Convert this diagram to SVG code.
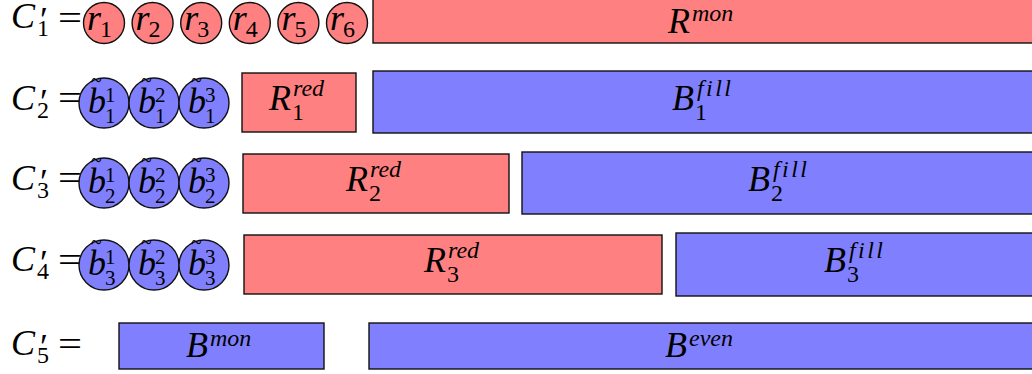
<svg xmlns="http://www.w3.org/2000/svg" width="1032" height="374" viewBox="0 0 1032 374">
<style>
.red{fill:#FF8080;stroke:#111;stroke-width:1.4}
.blue{fill:#8080FF;stroke:#111;stroke-width:1.4}
</style>
<rect width="1032" height="374" fill="#fff"/>
<g id="connectors"/>
<g id="labels">
<g id="label-c1"><text font-family="Liberation Serif" font-style="italic" font-size="36" x="11" y="28">C</text><text font-family="Liberation Serif" font-size="36" x="40" y="32">′</text><text font-family="Liberation Serif" font-size="24" x="37" y="36">1</text><text font-family="Liberation Serif" font-size="36" x="58" y="30.4" textLength="24" lengthAdjust="spacingAndGlyphs">=</text></g>
<g id="label-c2"><text font-family="Liberation Serif" font-style="italic" font-size="36" x="11" y="110">C</text><text font-family="Liberation Serif" font-size="36" x="40" y="114">′</text><text font-family="Liberation Serif" font-size="24" x="37" y="118">2</text><text font-family="Liberation Serif" font-size="36" x="58" y="110.4" textLength="24" lengthAdjust="spacingAndGlyphs">=</text></g>
<g id="label-c3"><text font-family="Liberation Serif" font-style="italic" font-size="36" x="11" y="190">C</text><text font-family="Liberation Serif" font-size="36" x="40" y="194">′</text><text font-family="Liberation Serif" font-size="24" x="37" y="198">3</text><text font-family="Liberation Serif" font-size="36" x="58" y="190.4" textLength="24" lengthAdjust="spacingAndGlyphs">=</text></g>
<g id="label-c4"><text font-family="Liberation Serif" font-style="italic" font-size="36" x="11" y="271">C</text><text font-family="Liberation Serif" font-size="36" x="40" y="275">′</text><text font-family="Liberation Serif" font-size="24" x="37" y="279">4</text><text font-family="Liberation Serif" font-size="36" x="58" y="272.4" textLength="24" lengthAdjust="spacingAndGlyphs">=</text></g>
<g id="label-c5"><text font-family="Liberation Serif" font-style="italic" font-size="36" x="11" y="355">C</text><text font-family="Liberation Serif" font-size="36" x="40" y="359">′</text><text font-family="Liberation Serif" font-size="24" x="37" y="363">5</text><text font-family="Liberation Serif" font-size="36" x="58" y="355.5" textLength="24" lengthAdjust="spacingAndGlyphs">=</text></g>
</g>
<g id="row1">
<g id="r1"><circle class="red" cx="104" cy="23" r="20.5"/><text font-family="Liberation Serif" font-style="italic" font-size="36" x="87" y="30">r</text><text font-family="Liberation Serif" font-size="24" x="100" y="37">1</text></g>
<g id="r2"><circle class="red" cx="152.6" cy="23" r="20.5"/><text font-family="Liberation Serif" font-style="italic" font-size="36" x="135.6" y="30">r</text><text font-family="Liberation Serif" font-size="24" x="148.6" y="37">2</text></g>
<g id="r3"><circle class="red" cx="201.2" cy="23" r="20.5"/><text font-family="Liberation Serif" font-style="italic" font-size="36" x="184.2" y="30">r</text><text font-family="Liberation Serif" font-size="24" x="197.2" y="37">3</text></g>
<g id="r4"><circle class="red" cx="249.8" cy="23" r="20.5"/><text font-family="Liberation Serif" font-style="italic" font-size="36" x="232.8" y="30">r</text><text font-family="Liberation Serif" font-size="24" x="245.8" y="37">4</text></g>
<g id="r5"><circle class="red" cx="298.4" cy="23" r="20.5"/><text font-family="Liberation Serif" font-style="italic" font-size="36" x="281.4" y="30">r</text><text font-family="Liberation Serif" font-size="24" x="294.4" y="37">5</text></g>
<g id="r6"><circle class="red" cx="347" cy="23" r="20.5"/><text font-family="Liberation Serif" font-style="italic" font-size="36" x="330" y="30">r</text><text font-family="Liberation Serif" font-size="24" x="343" y="37">6</text></g>
<g id="Rmon"><rect class="red" x="373" y="-2" width="660" height="45"/><text font-family="Liberation Serif" font-style="italic" font-size="36" x="668" y="33">R</text><text font-family="Liberation Serif" font-style="italic" font-size="24" x="692" y="21">mon</text></g>
</g>
<g id="row2">
<g id="b11"><circle class="blue" cx="104" cy="103" r="25"/><text font-family="Liberation Serif" font-size="20" x="91" y="87">~</text><text font-family="Liberation Serif" font-style="italic" font-size="36" x="88" y="113">b</text><text font-family="Liberation Serif" font-size="21" x="105" y="102">1</text><text font-family="Liberation Serif" font-size="21" x="105" y="123">1</text></g>
<g id="b21"><circle class="blue" cx="154" cy="103" r="25"/><text font-family="Liberation Serif" font-size="20" x="141" y="87">~</text><text font-family="Liberation Serif" font-style="italic" font-size="36" x="138" y="113">b</text><text font-family="Liberation Serif" font-size="21" x="155" y="102">2</text><text font-family="Liberation Serif" font-size="21" x="155" y="123">1</text></g>
<g id="b31"><circle class="blue" cx="204" cy="103" r="25"/><text font-family="Liberation Serif" font-size="20" x="191" y="87">~</text><text font-family="Liberation Serif" font-style="italic" font-size="36" x="188" y="113">b</text><text font-family="Liberation Serif" font-size="21" x="205" y="102">3</text><text font-family="Liberation Serif" font-size="21" x="205" y="123">1</text></g>
<g id="R1red"><rect class="red" x="242" y="73" width="114" height="59"/><text font-family="Liberation Serif" font-style="italic" font-size="36" x="269" y="110">R</text><text font-family="Liberation Serif" font-style="italic" font-size="24" x="293" y="96">red</text><text font-family="Liberation Serif" font-size="24" x="292" y="120">1</text></g>
<g id="B1fill"><rect class="blue" x="373" y="71" width="660" height="62"/><text font-family="Liberation Serif" font-style="italic" font-size="36" x="672" y="110">B</text><text font-family="Liberation Serif" font-style="italic" font-size="24" x="697" y="96" textLength="34" lengthAdjust="spacing">fill</text><text font-family="Liberation Serif" font-size="24" x="695" y="120">1</text></g>
</g>
<g id="row3">
<g id="b12"><circle class="blue" cx="104" cy="183" r="25"/><text font-family="Liberation Serif" font-size="20" x="91" y="167">~</text><text font-family="Liberation Serif" font-style="italic" font-size="36" x="88" y="193">b</text><text font-family="Liberation Serif" font-size="21" x="105" y="182">1</text><text font-family="Liberation Serif" font-size="21" x="105" y="203">2</text></g>
<g id="b22"><circle class="blue" cx="154" cy="183" r="25"/><text font-family="Liberation Serif" font-size="20" x="141" y="167">~</text><text font-family="Liberation Serif" font-style="italic" font-size="36" x="138" y="193">b</text><text font-family="Liberation Serif" font-size="21" x="155" y="182">2</text><text font-family="Liberation Serif" font-size="21" x="155" y="203">2</text></g>
<g id="b32"><circle class="blue" cx="204" cy="183" r="25"/><text font-family="Liberation Serif" font-size="20" x="191" y="167">~</text><text font-family="Liberation Serif" font-style="italic" font-size="36" x="188" y="193">b</text><text font-family="Liberation Serif" font-size="21" x="205" y="182">3</text><text font-family="Liberation Serif" font-size="21" x="205" y="203">2</text></g>
<g id="R2red"><rect class="red" x="243" y="154" width="266" height="59"/><text font-family="Liberation Serif" font-style="italic" font-size="36" x="346" y="191">R</text><text font-family="Liberation Serif" font-style="italic" font-size="24" x="370" y="177">red</text><text font-family="Liberation Serif" font-size="24" x="369" y="201">2</text></g>
<g id="B2fill"><rect class="blue" x="522" y="152" width="511" height="62"/><text font-family="Liberation Serif" font-style="italic" font-size="36" x="748" y="191">B</text><text font-family="Liberation Serif" font-style="italic" font-size="24" x="773" y="177" textLength="34" lengthAdjust="spacing">fill</text><text font-family="Liberation Serif" font-size="24" x="771" y="201">2</text></g>
</g>
<g id="row4">
<g id="b13"><circle class="blue" cx="104" cy="265" r="25"/><text font-family="Liberation Serif" font-size="20" x="91" y="249">~</text><text font-family="Liberation Serif" font-style="italic" font-size="36" x="88" y="275">b</text><text font-family="Liberation Serif" font-size="21" x="105" y="264">1</text><text font-family="Liberation Serif" font-size="21" x="105" y="285">3</text></g>
<g id="b23"><circle class="blue" cx="154" cy="265" r="25"/><text font-family="Liberation Serif" font-size="20" x="141" y="249">~</text><text font-family="Liberation Serif" font-style="italic" font-size="36" x="138" y="275">b</text><text font-family="Liberation Serif" font-size="21" x="155" y="264">2</text><text font-family="Liberation Serif" font-size="21" x="155" y="285">3</text></g>
<g id="b33"><circle class="blue" cx="204" cy="265" r="25"/><text font-family="Liberation Serif" font-size="20" x="191" y="249">~</text><text font-family="Liberation Serif" font-style="italic" font-size="36" x="188" y="275">b</text><text font-family="Liberation Serif" font-size="21" x="205" y="264">3</text><text font-family="Liberation Serif" font-size="21" x="205" y="285">3</text></g>
<g id="R3red"><rect class="red" x="244" y="235" width="418" height="59"/><text font-family="Liberation Serif" font-style="italic" font-size="36" x="424" y="272">R</text><text font-family="Liberation Serif" font-style="italic" font-size="24" x="448" y="258">red</text><text font-family="Liberation Serif" font-size="24" x="447" y="282">3</text></g>
<g id="B3fill"><rect class="blue" x="676" y="233" width="357" height="63"/><text font-family="Liberation Serif" font-style="italic" font-size="36" x="824" y="272">B</text><text font-family="Liberation Serif" font-style="italic" font-size="24" x="849" y="258" textLength="34" lengthAdjust="spacing">fill</text><text font-family="Liberation Serif" font-size="24" x="847" y="282">3</text></g>
</g>
<g id="row5">
<g id="Bmon"><rect class="blue" x="119" y="323" width="205" height="46"/><text font-family="Liberation Serif" font-style="italic" font-size="36" x="186" y="357">B</text><text font-family="Liberation Serif" font-style="italic" font-size="24" x="210" y="346">mon</text></g>
<g id="Beven"><rect class="blue" x="369" y="323" width="664" height="46"/><text font-family="Liberation Serif" font-style="italic" font-size="36" x="665" y="357">B</text><text font-family="Liberation Serif" font-style="italic" font-size="24" x="689" y="346">even</text></g>
</g>
</svg>
